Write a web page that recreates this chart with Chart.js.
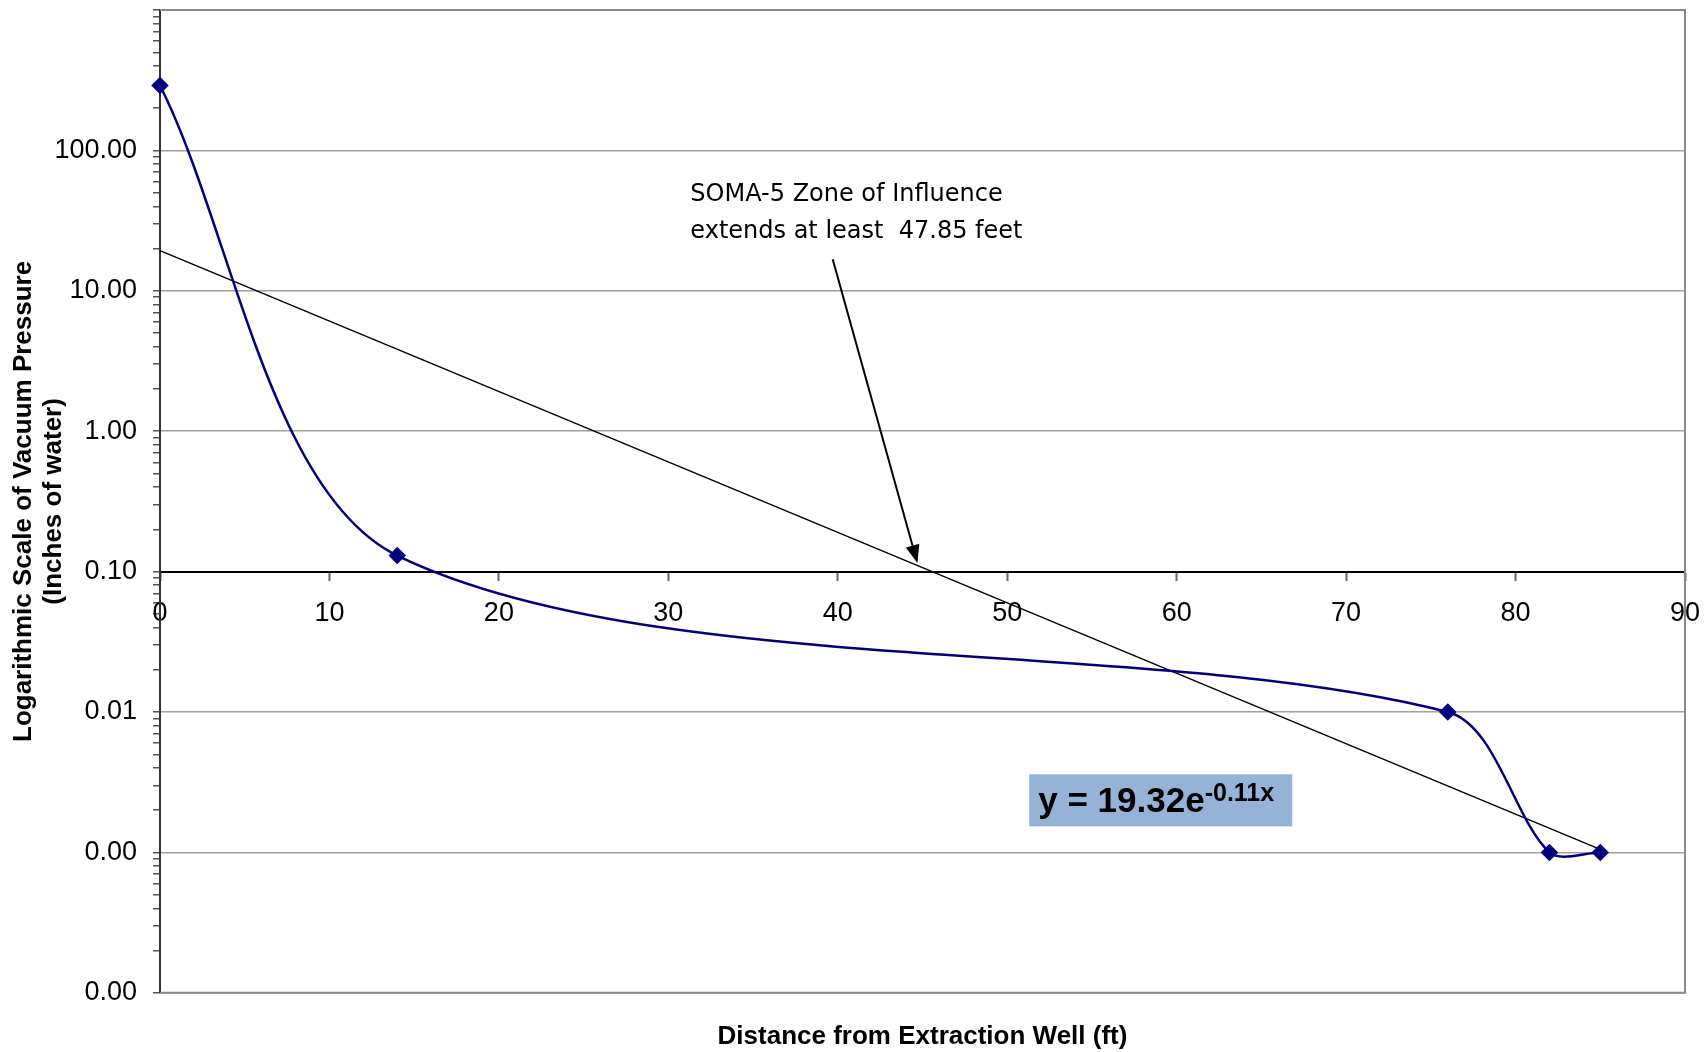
<!DOCTYPE html>
<html>
<head>
<meta charset="utf-8">
<title>SOMA-5 Zone of Influence</title>
<script src="https://cdn.jsdelivr.net/npm/chart.js@4/dist/chart.umd.min.js"></script>
<style>
    html, body { margin: 0; padding: 0; background: #fff; }
    #wrap { width: 1708px; height: 1052px; position: relative; }
</style>
</head>
<body>
<div id="wrap"><canvas id="vacuumChart"></canvas></div>
<script>
// Measured vacuum readings
const distances = [0, 14, 76, 82, 85];
const pressures = [290, 0.13, 0.01, 0.001, 0.001];

// Exponential trendline (straight on the log axis), read at both ends
const trendDistances = [0, 85];
const trendPressures = [19.32, 0.00105];

// Axis ticks
const yTickValues = [0.0001, 0.001, 0.01, 0.1, 1, 10, 100, 1000];
const yTickLabels = ['0.00', '0.00', '0.01', '0.10', '1.00', '10.00', '100.00', ''];

// Annotation texts
const noteLines = ['SOMA-5 Zone of Influence', 'extends at least  47.85 feet'];
const equationMain = 'y = 19.32e';
const equationExp = '-0.11x';

const FONT = "'Liberation Sans', Arial, sans-serif";

// Text box, arrow and trendline equation
const annotations = {
    id: 'annotations',
    afterDatasetsDraw(chart) {
        const ctx = chart.ctx;
        const xs = chart.scales.x;
        const ys = chart.scales.y;
        ctx.save();

        // note text
        ctx.fillStyle = '#000';
        ctx.font = "24px 'DejaVu Sans', sans-serif";
        ctx.textBaseline = 'middle';
        ctx.textAlign = 'left';
        const tx = xs.getPixelForValue(31.3);
        const ty = ys.getPixelForValue(48);
        noteLines.forEach((line, i) => ctx.fillText(line, tx, ty + i * 37));

        // arrow
        const ax0 = xs.getPixelForValue(39.7), ay0 = ys.getPixelForValue(16.8);
        const ax1 = xs.getPixelForValue(44.7), ay1 = ys.getPixelForValue(0.115);
        const ang = Math.atan2(ay1 - ay0, ax1 - ax0);
        const headLen = 18, headW = 7;
        ctx.strokeStyle = '#000';
        ctx.lineWidth = 2;
        ctx.beginPath();
        ctx.moveTo(ax0, ay0);
        ctx.lineTo(ax1 - Math.cos(ang) * headLen, ay1 - Math.sin(ang) * headLen);
        ctx.stroke();
        ctx.beginPath();
        ctx.moveTo(ax1, ay1);
        ctx.lineTo(ax1 - Math.cos(ang) * headLen - Math.sin(ang) * headW,
                   ay1 - Math.sin(ang) * headLen + Math.cos(ang) * headW);
        ctx.lineTo(ax1 - Math.cos(ang) * headLen + Math.sin(ang) * headW,
                   ay1 - Math.sin(ang) * headLen - Math.cos(ang) * headW);
        ctx.closePath();
        ctx.fill();

        // equation box
        const bx = xs.getPixelForValue(51.3);
        const by = ys.getPixelForValue(0.0036);
        ctx.fillStyle = '#95b3d7';
        ctx.fillRect(bx, by, 263, 52);
        ctx.fillStyle = '#000';
        ctx.textBaseline = 'alphabetic';
        ctx.font = 'bold 35px ' + FONT;
        ctx.fillText(equationMain, bx + 9, by + 38);
        const w = ctx.measureText(equationMain).width;
        ctx.font = 'bold 25px ' + FONT;
        ctx.fillText(equationExp, bx + 9 + w, by + 27);
        ctx.restore();
    }
};

// Frame of the plot area
const frame = {
    id: 'frame',
    beforeDatasetsDraw(chart) {
        const {ctx, chartArea} = chart;
        ctx.save();
        ctx.strokeStyle = '#888';
        ctx.lineWidth = 2;
        ctx.beginPath();
        ctx.moveTo(chartArea.left, chartArea.top);
        ctx.lineTo(chartArea.right, chartArea.top);
        ctx.lineTo(chartArea.right, chartArea.bottom);
        ctx.lineTo(chartArea.left, chartArea.bottom);
        ctx.stroke();
        ctx.restore();
    }
};

const ctx = document.getElementById('vacuumChart').getContext('2d');
const vacuumChart = new Chart(ctx, {
    type: 'line',
    data: {
        datasets: [
            {
                label: 'Vacuum',
                data: distances.map((d, i) => ({x: d, y: pressures[i]})),
                borderColor: '#000080',
                backgroundColor: '#000080',
                borderWidth: 2.5,
                pointStyle: 'rectRot',
                pointRadius: 7,
                pointHoverRadius: 7,
                tension: 0.3,
                clip: false
            },
            {
                label: 'Trend',
                data: trendDistances.map((d, i) => ({x: d, y: trendPressures[i]})),
                borderColor: '#000',
                borderWidth: 1.5,
                pointRadius: 0,
                tension: 0,
                clip: false
            }
        ]
    },
    options: {
        responsive: true,
        maintainAspectRatio: false,
        animation: false,
        layout: {
            padding: {left: 0, top: 10, right: 23, bottom: 0}
        },
        plugins: {
            legend: {display: false},
            tooltip: {enabled: false},
            title: {
                display: true,
                position: 'bottom',
                fullSize: false,
                text: 'Distance from Extraction Well (ft)',
                color: '#000',
                font: {family: FONT, size: 26, weight: 'bold', lineHeight: 1.2},
                padding: {top: 28, bottom: 0}
            }
        },
        scales: {
            x: {
                type: 'linear',
                position: {y: 0.1},
                min: 0,
                max: 90,
                ticks: {
                    stepSize: 10,
                    color: '#000',
                    font: {family: FONT, size: 27},
                    padding: 18
                },
                grid: {
                    drawOnChartArea: false,
                    tickLength: 8,
                    tickColor: '#666',
                    tickWidth: 2
                },
                border: {color: '#000', width: 2},
                afterFit(s) {
                    s.paddingLeft = 0;
                    s.paddingRight = 0;
                }
            },
            y: {
                type: 'logarithmic',
                min: 0.0001,
                max: 1000,
                afterBuildTicks(s) {
                    const ticks = [];
                    yTickValues.forEach(v => {
                        ticks.push({value: v, major: true});
                        if (v < 1000) {
                            for (let k = 2; k < 10; k++) ticks.push({value: v * k, major: false});
                        }
                    });
                    s.ticks = ticks;
                },
                ticks: {
                    autoSkip: false,
                    color: '#000',
                    font: {family: FONT, size: 27},
                    padding: 16,
                    callback: (value, index, ticks) => {
                        const i = yTickValues.indexOf(ticks[index].value);
                        return (ticks[index].major && i >= 0) ? yTickLabels[i] : '';
                    }
                },
                grid: {
                    color: c => (c.tick && c.tick.major) ? '#a0a0a0' : 'rgba(0,0,0,0)',
                    lineWidth: 1.5,
                    tickColor: '#555',
                    tickLength: 7,
                    tickWidth: 1.5
                },
                border: {color: '#333', width: 2},
                title: {
                    display: true,
                    text: ['Logarithmic Scale of Vacuum Pressure', '(Inches of water)'],
                    color: '#000',
                    font: {family: FONT, size: 26, weight: 'bold', lineHeight: 1.15},
                    padding: {top: 9, bottom: 0}
                },
                afterFit(s) {
                    s.width = 160;
                    s.paddingTop = 0;
                    s.paddingBottom = 0;
                }
            }
        }
    },
    plugins: [frame, annotations]
});
</script>
</body>
</html>
